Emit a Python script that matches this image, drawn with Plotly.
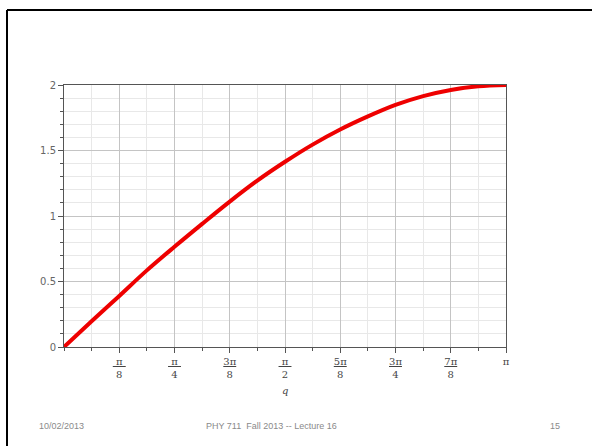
import plotly.graph_objects as go
import math

# Data (q in radians, value of the curve)
q_vals = [0.0, 0.196, 0.393, 0.589, 0.785, 0.982, 1.178, 1.374, 1.571,
          1.767, 1.963, 2.160, 2.356, 2.553, 2.749, 2.945, 3.1416]
y_vals = [0.0, 0.196, 0.39, 0.585, 0.765, 0.94, 1.11, 1.27, 1.414,
          1.545, 1.66, 1.76, 1.848, 1.915, 1.962, 1.99, 2.0]

tick_pos = [math.pi * k / 8 for k in range(1, 9)]
tick_text = ["<u>\u00a0π\u00a0</u><br>8", "<u>\u00a0π\u00a0</u><br>4", "<u>3π</u><br>8",
             "<u>\u00a0π\u00a0</u><br>2", "<u>5π</u><br>8", "<u>3π</u><br>4",
             "<u>7π</u><br>8", "π<br>\u00a0"]

footer_left = "10/02/2013"
footer_mid = "PHY 711  Fall 2013 -- Lecture 16"
footer_right = "15"

W, H = 592, 446
L, R, T, B = 64, 506, 85, 347

fig = go.Figure()
fig.add_trace(go.Scatter(x=q_vals, y=y_vals, mode="lines",
                         line=dict(color="#ee0000", width=4, shape="spline"),
                         showlegend=False, hoverinfo="skip"))

def px2x(px):
    return (px - L) / (R - L)

def py2y(py):
    return (B - py) / (B - T)

fig.update_layout(
    width=W, height=H,
    margin=dict(l=L, r=W - R, t=T, b=H - B, pad=0),
    paper_bgcolor="white", plot_bgcolor="white",
    xaxis=dict(range=[0, math.pi], tickmode="array", tickvals=tick_pos, ticktext=tick_text,
               showgrid=True, gridcolor="#c4c4c4", gridwidth=1,
               ticks="outside", ticklen=5, tickcolor="#555",
               showline=True, linecolor="#555", linewidth=1, mirror=True,
               zeroline=False,
               tickfont=dict(family="DejaVu Serif", size=10, color="#444"),
               minor=dict(dtick=math.pi / 16, tick0=0, showgrid=True, gridcolor="#e8e8e8",
                          ticks="outside", ticklen=3, tickcolor="#555")),
    yaxis=dict(range=[0, 2], dtick=0.5, tick0=0,
               showgrid=True, gridcolor="#c4c4c4", gridwidth=1,
               ticks="outside", ticklen=5, tickcolor="#555",
               showline=True, linecolor="#555", linewidth=1, mirror=True,
               zeroline=False,
               tickfont=dict(family="DejaVu Sans", size=10, color="#666"),
               minor=dict(dtick=0.1, showgrid=True, gridcolor="#e8e8e8",
                          ticks="outside", ticklen=3, tickcolor="#555")),
)

fig.add_annotation(x=math.pi / 2, xref="x", y=py2y(383), yref="paper", yanchor="top",
                   text="<i>q</i>", showarrow=False,
                   font=dict(family="DejaVu Serif", size=10, color="#444"))

# Slide frame (top and left edges)
fig.add_shape(type="line", xref="paper", yref="paper", x0=px2x(7), x1=px2x(600),
              y0=py2y(10), y1=py2y(10), line=dict(color="black", width=2))
fig.add_shape(type="line", xref="paper", yref="paper", x0=px2x(7), x1=px2x(7),
              y0=py2y(10), y1=py2y(460), line=dict(color="black", width=2))

ff = dict(family="Liberation Sans", size=9, color="#8a8a8a")
fig.add_annotation(x=px2x(37), y=py2y(433), xref="paper", yref="paper", text=footer_left,
                   showarrow=False, xanchor="left", font=ff)
fig.add_annotation(x=px2x(271), y=py2y(433), xref="paper", yref="paper", text=footer_mid,
                   showarrow=False, xanchor="center", font=ff)
fig.add_annotation(x=px2x(562), y=py2y(433), xref="paper", yref="paper", text=footer_right,
                   showarrow=False, xanchor="right", font=ff)

fig.write_html("out.html", config={"displayModeBar": False},
               post_script="document.body.style.margin='0';document.body.style.overflow='hidden';")
